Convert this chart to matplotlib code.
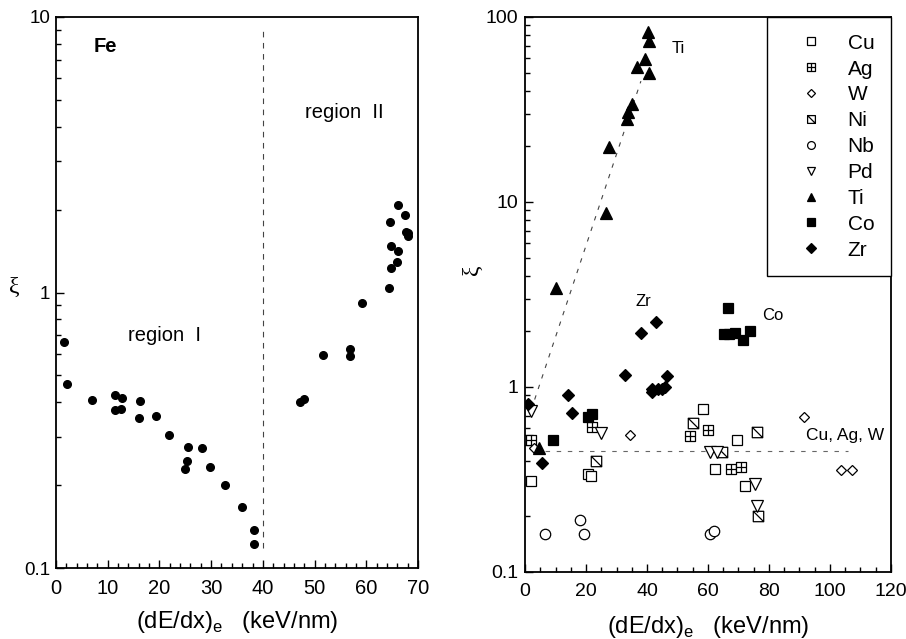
import matplotlib
matplotlib.use("Agg")
import matplotlib.pyplot as plt
from matplotlib.path import Path
from matplotlib.ticker import MultipleLocator, LogLocator, FixedLocator, FixedFormatter, NullFormatter

plt.rcParams['font.family'] = ['Liberation Sans', 'DejaVu Sans']
plt.rcParams['mathtext.fontset'] = 'custom'
plt.rcParams['mathtext.rm'] = 'Liberation Sans'

# ---------------- data: left panel (Fe) ----------------
fe_x = [1.5, 2.2, 6.9, 11.4, 11.4, 12.8, 12.6, 16.3, 16.1, 19.4, 21.9, 25.5, 28.3, 25.4,
        25.0, 29.7, 32.7, 36.0, 38.2, 38.2, 47.2, 48.0, 51.6, 56.9, 56.9, 59.1, 64.3, 64.8,
        66.0, 64.7, 66.2, 64.6, 66.2, 67.5, 67.6, 68.0, 68.1]
fe_y = [0.66, 0.466, 0.407, 0.426, 0.376, 0.413, 0.379, 0.404, 0.349, 0.355, 0.303, 0.274,
        0.272, 0.245, 0.228, 0.232, 0.200, 0.166, 0.137, 0.122, 0.399, 0.411, 0.591, 0.625,
        0.588, 0.914, 1.04, 1.23, 1.29, 1.48, 1.42, 1.80, 2.07, 1.91, 1.66, 1.64, 1.60]
fe_boundary_x = [40, 40]
fe_boundary_y = [0.118, 9.0]

# ---------------- data: right panel ----------------
cu_x = [1.0, 2.0, 20.6, 21.7, 58.5, 69.5, 62.3, 72.2]
cu_y = [0.52, 0.31, 0.34, 0.33, 0.76, 0.52, 0.36, 0.29]
ag_x = [2.0, 22.0, 54.1, 59.9, 67.6, 70.9]
ag_y = [0.52, 0.605, 0.54, 0.586, 0.36, 0.37]
w_x = [3.0, 34.3, 91.4, 103.5, 107.3]
w_y = [0.47, 0.55, 0.685, 0.358, 0.358]
ni_x = [23.4, 55.2, 76.1, 64.5, 76.4]
ni_y = [0.40, 0.64, 0.57, 0.445, 0.20]
nb_x = [6.6, 18.0, 19.5, 60.7, 62.1]
nb_y = [0.16, 0.19, 0.16, 0.161, 0.166]
pd_x = [2.0, 25.0, 60.7, 63.0, 75.5, 76.1]
pd_y = [0.74, 0.565, 0.445, 0.445, 0.30, 0.226]
ti_x = [4.6, 10.1, 26.4, 27.5, 33.5, 33.8, 35.0, 36.8, 39.3, 40.7, 40.7, 40.4]
ti_y = [0.47, 3.44, 8.7, 19.8, 28.2, 30.6, 34.0, 53.7, 59.3, 49.8, 73.8, 83.0]
co_x = [9.2, 20.6, 22.1, 66.5, 65.3, 67.0, 68.8, 71.4, 73.9]
co_y = [0.52, 0.69, 0.71, 2.68, 1.93, 1.94, 1.95, 1.80, 2.01]
zr_x = [1.1, 5.6, 14.0, 15.4, 32.7, 37.9, 42.9, 41.5, 41.5, 43.5, 44.8, 45.8, 46.4]
zr_y = [0.81, 0.39, 0.90, 0.72, 1.16, 1.96, 2.24, 0.94, 0.98, 0.97, 0.98, 1.0, 1.14]

ti_fit_x = [2, 38]
ti_fit_y = [0.75, 45]
cuagw_x = [3, 106]
cuagw_y = [0.45, 0.45]

xlabel = r'(dE/dx)$_\mathregular{e}$   (keV/nm)'

# custom markers
sq_plus = Path([(-1, -1), (1, -1), (1, 1), (-1, 1), (-1, -1), (0, -1), (0, 1), (-1, 0), (1, 0)],
               [Path.MOVETO, Path.LINETO, Path.LINETO, Path.LINETO, Path.CLOSEPOLY,
                Path.MOVETO, Path.LINETO, Path.MOVETO, Path.LINETO])
sq_diag = Path([(-1, -1), (1, -1), (1, 1), (-1, 1), (-1, -1), (-1, 1), (1, -1)],
               [Path.MOVETO, Path.LINETO, Path.LINETO, Path.LINETO, Path.CLOSEPOLY,
                Path.MOVETO, Path.LINETO])

fig = plt.figure(figsize=(9.06, 6.39), dpi=100)
ax1 = fig.add_axes([0.0618, 0.1111, 0.3996, 0.8623])
ax2 = fig.add_axes([0.5795, 0.1049, 0.4039, 0.8685])

for ax in (ax1, ax2):
    ax.set_yscale('log')
    for s in ax.spines.values():
        s.set_linewidth(1.3)
    ax.tick_params(which='both', direction='in', top=False, right=False, width=1.0)
    ax.tick_params(which='major', length=6)
    ax.tick_params(which='minor', length=3.5)

# ---------------- left panel ----------------
ax1.plot(fe_x, fe_y, 'o', color='black', markersize=5.5, linestyle='none')
ax1.plot(fe_boundary_x, fe_boundary_y, linestyle=(0, (5, 5)), color='#444444', linewidth=0.8)
ax1.set_xlim(0, 70)
ax1.set_ylim(0.1, 10)
ax1.xaxis.set_major_locator(MultipleLocator(10))
ax1.xaxis.set_minor_locator(MultipleLocator(2))
ax1.yaxis.set_major_locator(FixedLocator([0.1, 1, 10]))
ax1.yaxis.set_major_formatter(FixedFormatter(['0.1', '1', '10']))
ax1.yaxis.set_minor_locator(LogLocator(base=10, subs=range(2, 10)))
ax1.yaxis.set_minor_formatter(NullFormatter())
ax1.tick_params(axis='x', labelsize=14.5, pad=8)
ax1.tick_params(axis='y', labelsize=13.5, pad=4)
ax1.set_xlabel(xlabel, fontsize=17, labelpad=8)
ax1.set_ylabel('ξ', fontsize=17, rotation=0, family='Liberation Serif')
ax1.yaxis.set_label_coords(-0.115, 0.49)
ax1.text(7.3, 7.8, 'Fe', fontsize=14.5, fontweight='bold', ha='left', va='center')
ax1.text(48.2, 4.5, 'region  II', fontsize=14.5, ha='left', va='center')
ax1.text(13.9, 0.70, 'region  I', fontsize=14.5, ha='left', va='center')

# ---------------- right panel ----------------
ax2.plot(ti_fit_x, ti_fit_y, linestyle=(0, (4, 6)), color='#444444', linewidth=0.8)
ax2.plot(cuagw_x, cuagw_y, linestyle=(0, (4, 6)), color='#666666', linewidth=0.8)

mk = dict(linestyle='none', color='black', markeredgewidth=0.9)
ax2.plot(cu_x, cu_y, 's', markersize=7.5, markerfacecolor='white', label='Cu', **mk)
ax2.plot(ag_x, ag_y, marker=sq_plus, markersize=7.5, markerfacecolor='white', label='Ag', **mk)
ax2.plot(w_x, w_y, 'D', markersize=5.5, markerfacecolor='white', label='W', **mk)
ax2.plot(ni_x, ni_y, marker=sq_diag, markersize=7.5, markerfacecolor='white', label='Ni', **mk)
ax2.plot(nb_x, nb_y, 'o', markersize=7.5, markerfacecolor='white', label='Nb', **mk)
ax2.plot(pd_x, pd_y, 'v', markersize=8.5, markerfacecolor='white', label='Pd', **mk)
ax2.plot(ti_x, ti_y, '^', markersize=8.5, markerfacecolor='black', label='Ti', **mk)
ax2.plot(co_x, co_y, 's', markersize=7.5, markerfacecolor='black', label='Co', **mk)
ax2.plot(zr_x, zr_y, 'D', markersize=6.5, markerfacecolor='black', label='Zr', **mk)

ax2.set_xlim(0, 120)
ax2.set_ylim(0.1, 100)
ax2.xaxis.set_major_locator(MultipleLocator(20))
ax2.xaxis.set_minor_locator(MultipleLocator(5))
ax2.yaxis.set_major_locator(FixedLocator([0.1, 1, 10, 100]))
ax2.yaxis.set_major_formatter(FixedFormatter(['0.1', '1', '10', '100']))
ax2.yaxis.set_minor_locator(LogLocator(base=10, subs=range(2, 10)))
ax2.yaxis.set_minor_formatter(NullFormatter())
ax2.tick_params(axis='x', labelsize=14, pad=8)
ax2.tick_params(axis='y', labelsize=14, pad=5)
ax2.set_xlabel(xlabel, fontsize=17, labelpad=10)
ax2.set_ylabel('ξ', fontsize=17, rotation=90, family='Liberation Serif')
ax2.yaxis.set_label_coords(-0.115, 0.545)

ax2.text(48.1, 67.5, 'Ti', fontsize=12, ha='left', va='center')
ax2.text(36.3, 2.88, 'Zr', fontsize=12, ha='left', va='center')
ax2.text(77.6, 2.43, 'Co', fontsize=12, ha='left', va='center')
ax2.text(92.0, 0.55, 'Cu, Ag, W', fontsize=12.5, ha='left', va='center')

leg = ax2.legend(loc='upper right', bbox_to_anchor=(1.0, 1.0), borderaxespad=0,
                 fontsize=15, numpoints=1, markerscale=0.75, fancybox=False,
                 framealpha=1, edgecolor='black', borderpad=0.8, handlelength=2.63,
                 handletextpad=0.46, labelspacing=0.33)
leg.get_frame().set_linewidth(1.0)

fig.savefig('out.png', dpi=100)
